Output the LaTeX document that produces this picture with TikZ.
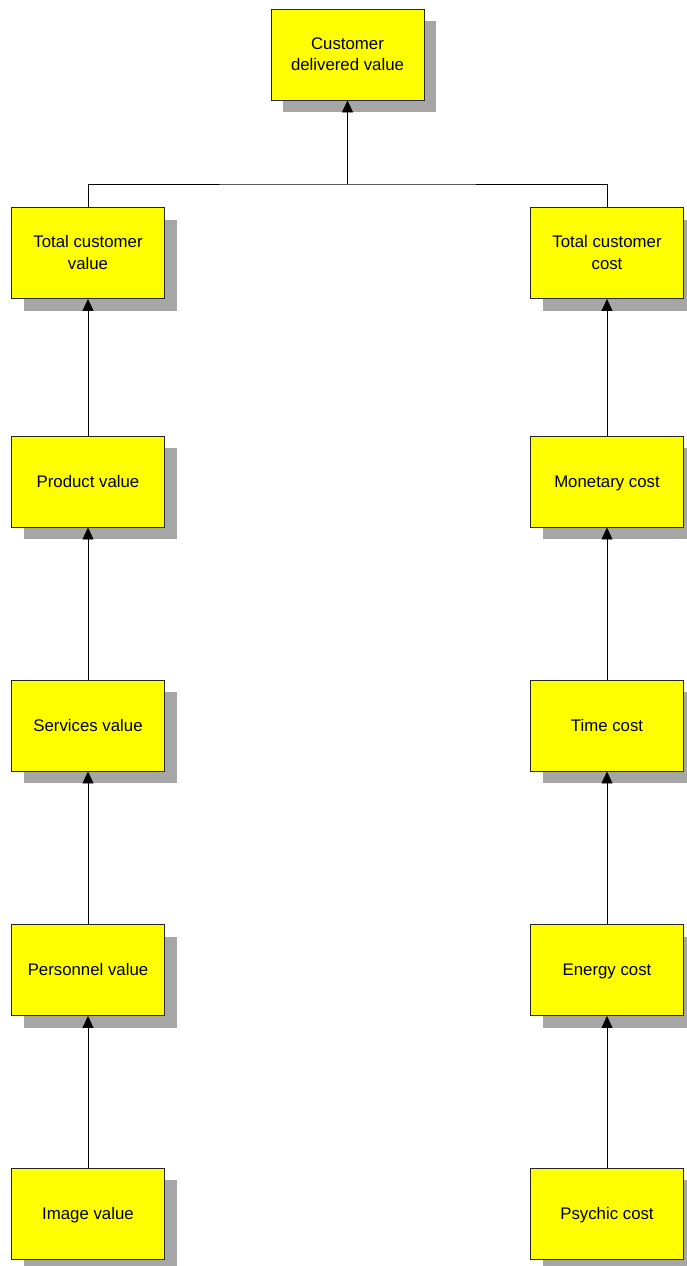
\documentclass[tikz,border=0pt]{standalone}
\usepackage{fontspec}
\setmainfont{Liberation Sans}
\usetikzlibrary{arrows.meta,shadows}
\definecolor{boxyellow}{HTML}{FFFF00}
\definecolor{shadowgray}{HTML}{A6A6A6}
\newcommand{\bxs}{\rule[-4.2pt]{0pt}{19.6pt}}
\begin{document}
\begin{tikzpicture}[x=1pt,y=-1pt,
  box/.style={draw=black!85,line width=0.9pt,fill=boxyellow,minimum width=153pt,minimum height=91pt,
    inner sep=0pt,align=center,font=\fontsize{16.8}{21.5}\selectfont,
    drop shadow={shadow xshift=12pt,shadow yshift=-12pt,fill=shadowgray,opacity=1,draw=none}},
  conn/.style={draw=black,line width=0.8pt},
  arr/.style={conn,-{Triangle[length=12pt,width=11pt]}}]
\useasboundingbox (0,0) rectangle (686,1266);
\fill[white] (0,0) rectangle (686,1266);
\node[box] (cdv) at (347.5,54.5) {\bxs Customer\\\bxs delivered value};
\node[box] (tcv) at (88,253) {\bxs Total customer\\\bxs value};
\node[box] (tcc) at (607,253) {\bxs Total customer\\\bxs cost};
\node[box] (pv) at (88,481.5) {\bxs Product value};
\node[box] (mc) at (607,481.5) {\bxs Monetary cost};
\node[box] (sv) at (88,725.5) {\bxs Services value};
\node[box] (tc) at (607,725.5) {\bxs Time cost};
\node[box] (perv) at (88,970) {\bxs Personnel value};
\node[box] (ec) at (607,970) {\bxs Energy cost};
\node[box] (iv) at (88,1213.5) {\bxs Image value};
\node[box] (pc) at (607,1213.5) {\bxs Psychic cost};
\coordinate (j) at (347.5,184);
\draw[conn] (tcv.north) |- (j) -| (tcc.north);
\draw[arr] (j) -- (cdv.south);
\draw[arr] (pv.north) -- (tcv.south);
\draw[arr] (sv.north) -- (pv.south);
\draw[arr] (perv.north) -- (sv.south);
\draw[arr] (iv.north) -- (perv.south);
\draw[arr] (mc.north) -- (tcc.south);
\draw[arr] (tc.north) -- (mc.south);
\draw[arr] (ec.north) -- (tc.south);
\draw[arr] (pc.north) -- (ec.south);
\end{tikzpicture}
\end{document}
